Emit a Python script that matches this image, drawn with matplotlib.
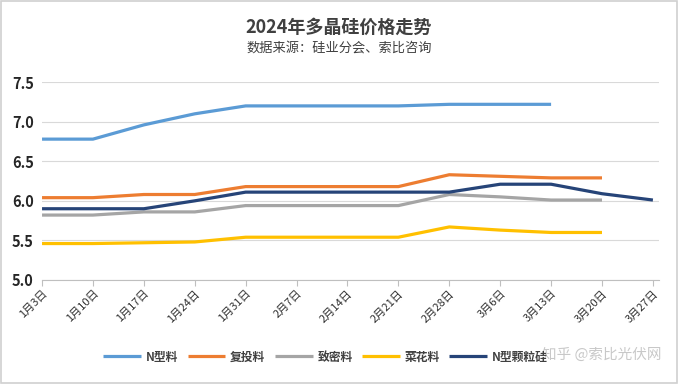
import matplotlib
matplotlib.use("Agg")
import matplotlib.pyplot as plt
import numpy as np

plt.rcParams["font.family"] = ["Noto Sans CJK SC", "DejaVu Sans"]
plt.rcParams["axes.unicode_minus"] = False

dates = ["1月3日", "1月10日", "1月17日", "1月24日", "1月31日", "2月7日", "2月14日",
         "2月21日", "2月28日", "3月6日", "3月13日", "3月20日", "3月27日"]
n_type = [6.78, 6.78, 6.96, 7.10, 7.20, 7.20, 7.20, 7.20, 7.22, 7.22, 7.22]
recharge = [6.04, 6.04, 6.08, 6.08, 6.18, 6.18, 6.18, 6.18, 6.33, 6.31, 6.29, 6.29]
dense = [5.82, 5.82, 5.86, 5.86, 5.94, 5.94, 5.94, 5.94, 6.08, 6.05, 6.01, 6.01]
cauliflower = [5.46, 5.46, 5.47, 5.48, 5.54, 5.54, 5.54, 5.54, 5.67, 5.63, 5.60, 5.60]
granular = [5.90, 5.90, 5.90, 6.00, 6.11, 6.11, 6.11, 6.11, 6.11, 6.21, 6.21, 6.09, 6.01]

series = [
    ("N型料", n_type, "#5B9BD5"),
    ("复投料", recharge, "#ED7D31"),
    ("致密料", dense, "#A5A5A5"),
    ("菜花料", cauliflower, "#FFC000"),
    ("N型颗粒硅", granular, "#264478"),
]

fig = plt.figure(figsize=(6.78, 3.84), dpi=100, facecolor="white")
ax = fig.add_axes([0.062, 0.271, 0.910, 0.515])

for name, vals, clr in series:
    ax.plot(np.arange(len(vals)), vals, color=clr, lw=2.3, label=name,
            solid_capstyle="butt")

yt = [5.0, 5.5, 6.0, 6.5, 7.0, 7.5]
ax.set_ylim(5.0, 7.5)
ax.set_yticks(yt)
ax.set_yticklabels([f"{v:.1f}" for v in yt],
                   fontsize=10.5, fontweight="bold", color="#262626")
ax.set_xlim(0, len(dates) - 1 + 0.12)
ax.set_xticks(np.arange(len(dates)))
ax.set_xticklabels(dates, rotation=45, ha="right", rotation_mode="anchor",
                   fontsize=8, color="#303030")
ax.tick_params(axis="y", length=0, pad=6)
ax.tick_params(axis="x", length=4, color="#BFBFBF", pad=2)
ax.grid(axis="y", color="#D9D9D9", lw=0.8)
ax.set_axisbelow(True)
for side in ["left", "right", "top"]:
    ax.spines[side].set_visible(False)
ax.spines["bottom"].set_color("#BFBFBF")

fig.text(0.5, 0.928, "2024年多晶硅价格走势", ha="center", va="center",
         fontsize=13, fontweight="bold", color="#404040")
fig.text(0.5, 0.874, "数据来源：硅业分会、索比咨询", ha="center", va="center",
         fontsize=9.5, color="#404040")

fig.legend(loc="center", bbox_to_anchor=(0.48, 0.07), ncol=5, frameon=False,
           handlelength=3.2, columnspacing=0.8, handletextpad=0.4,
           labelcolor="#404040", prop={"weight": "bold", "size": 8.5})

# watermark
fig.text(0.975, 0.075, "知乎 @索比光伏网", ha="right", va="center",
         fontsize=10.5, color="#BBBBBB", alpha=0.8)

fig.patches.append(plt.Rectangle((0.002, 0.003), 0.996, 0.994, transform=fig.transFigure,
                                 fill=False, edgecolor="#D0D0D0", lw=1.2))

fig.savefig("out.png", dpi=100, facecolor="white")
